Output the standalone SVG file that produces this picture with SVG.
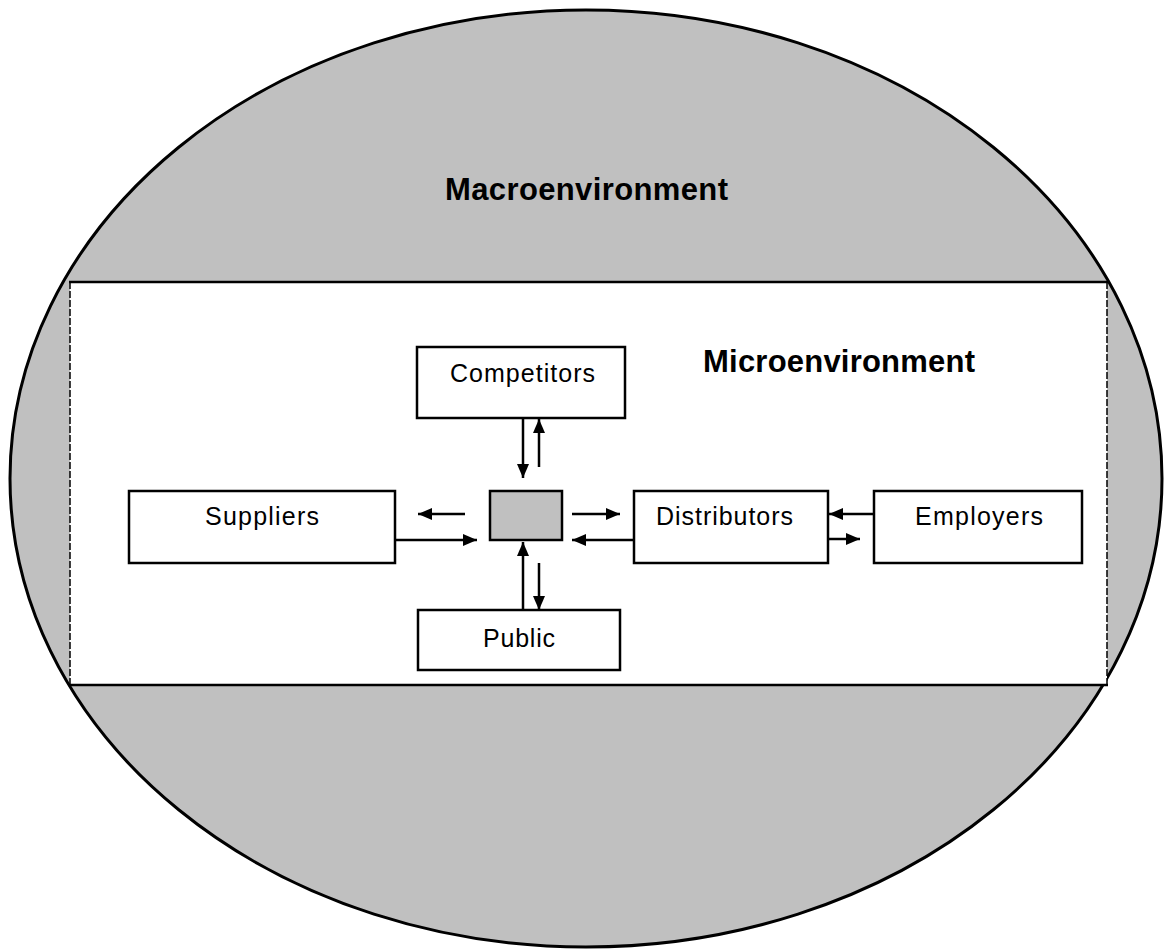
<svg xmlns="http://www.w3.org/2000/svg" width="1164" height="949" viewBox="0 0 1164 949">
<style>
.box{fill:#fff;stroke:#000;stroke-width:2.5}
.lbl{font-family:"Liberation Sans",Arial,sans-serif;font-size:25px;fill:#000;text-anchor:middle}
.ttl{font-family:"Liberation Sans",Arial,sans-serif;font-size:31px;font-weight:bold;fill:#000;text-anchor:middle}
.con{stroke:#000;stroke-width:2.5;fill:none;marker-end:url(#ah)}
</style>
<defs>
<marker id="ah" viewBox="0 0 14 12" refX="14" refY="6" markerWidth="14" markerHeight="12" markerUnits="userSpaceOnUse" orient="auto">
<path d="M0,0 L14,6 L0,12 Z" fill="#000"/>
</marker>
</defs>
<rect width="1164" height="949" fill="#fff"/>
<g id="macro">
<ellipse cx="586" cy="478.5" rx="576" ry="468.5" fill="#c0c0c0" stroke="#000" stroke-width="3"/>
<text class="ttl" x="586.5" y="200" textLength="283" lengthAdjust="spacing">Macroenvironment</text>
</g>
<g id="micro">
<rect x="70" y="282" width="1037" height="403" fill="#fff"/>
<line x1="69" y1="282" x2="1108" y2="282" stroke="#000" stroke-width="2.5"/>
<line x1="69" y1="685" x2="1108" y2="685" stroke="#000" stroke-width="2.5"/>
<line x1="70" y1="282" x2="70" y2="685" stroke="#000" stroke-width="1.5" stroke-dasharray="7 2"/>
<line x1="1107" y1="282" x2="1107" y2="685" stroke="#000" stroke-width="1.5" stroke-dasharray="7 2"/>
<text class="ttl" x="839" y="372" textLength="272" lengthAdjust="spacing">Microenvironment</text>
</g>
<g id="competitors">
<rect class="box" x="417" y="347" width="208" height="71"/>
<text class="lbl" x="522.5" y="382" textLength="145" lengthAdjust="spacing">Competitors</text>
</g>
<g id="company">
<rect x="490" y="491" width="72" height="49" fill="#c0c0c0" stroke="#000" stroke-width="2.5"/>
</g>
<g id="suppliers">
<rect class="box" x="129" y="491" width="266" height="72"/>
<text class="lbl" x="262" y="525" textLength="114" lengthAdjust="spacing">Suppliers</text>
</g>
<g id="distributors">
<rect class="box" x="634" y="491" width="194" height="72"/>
<text class="lbl" x="724.5" y="525" textLength="137" lengthAdjust="spacing">Distributors</text>
</g>
<g id="employers">
<rect class="box" x="874" y="491" width="208" height="72"/>
<text class="lbl" x="979" y="525" textLength="128" lengthAdjust="spacing">Employers</text>
</g>
<g id="public">
<rect class="box" x="418" y="610" width="202" height="60"/>
<text class="lbl" x="519" y="647" textLength="72" lengthAdjust="spacing">Public</text>
</g>
<g id="connectors">
<line class="con" x1="523" y1="418" x2="523" y2="478"/>
<line class="con" x1="539" y1="467" x2="539" y2="419"/>
<line class="con" x1="465" y1="514" x2="418" y2="514"/>
<line class="con" x1="395" y1="540" x2="477" y2="540"/>
<line class="con" x1="572" y1="514" x2="620" y2="514"/>
<line class="con" x1="634" y1="540" x2="572" y2="540"/>
<line class="con" x1="523" y1="610" x2="523" y2="542"/>
<line class="con" x1="539" y1="563" x2="539" y2="610"/>
<line class="con" x1="874" y1="514" x2="829" y2="514"/>
<line class="con" x1="828" y1="539" x2="860" y2="539"/>
</g>
</svg>
